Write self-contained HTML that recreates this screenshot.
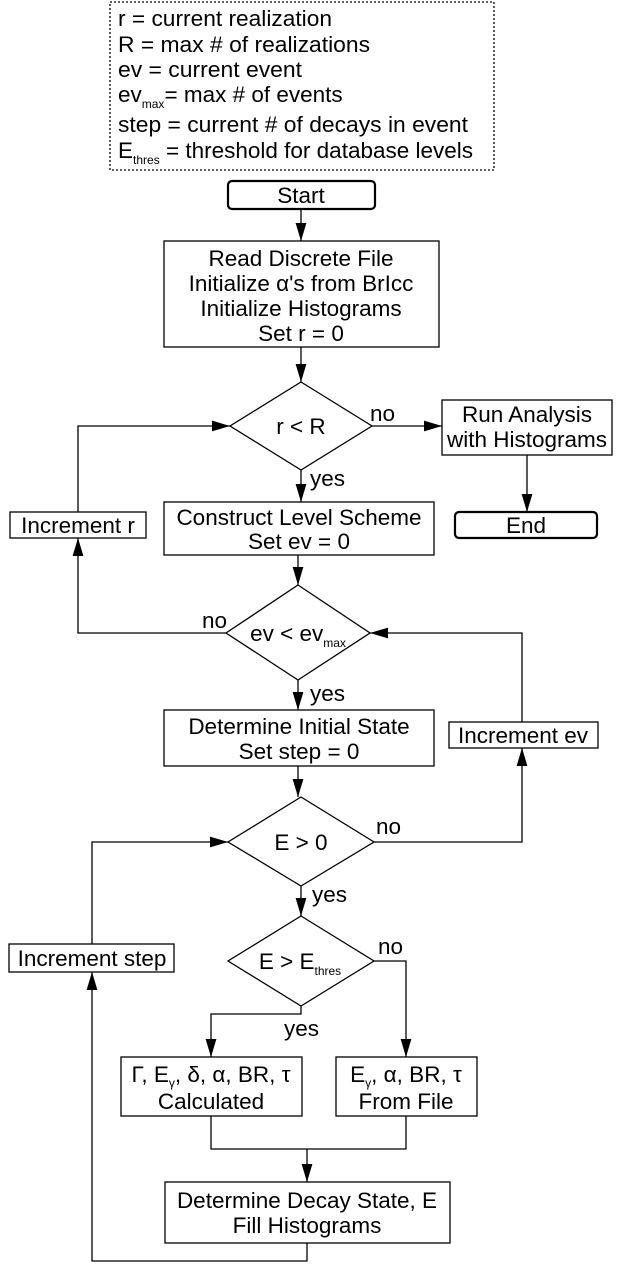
<!DOCTYPE html>
<html><head><meta charset="utf-8"><style>
html,body{margin:0;padding:0;background:#fff}
svg text{font-family:"Liberation Sans",sans-serif;font-size:22.5px;fill:#000}
</style></head><body>
<svg width="623" height="1263" viewBox="0 0 623 1263" xmlns="http://www.w3.org/2000/svg">
<defs><marker id="a" viewBox="0 0 10 10" refX="10" refY="5" markerWidth="18" markerHeight="18" markerUnits="userSpaceOnUse" orient="auto"><path d="M0,2 L10,5 L0,8 z" fill="#000"/></marker></defs>
<g fill="none" stroke="#000" stroke-width="1.3">
<rect x="110" y="2" width="384" height="168" stroke-dasharray="2,2"/>
<rect x="228" y="181" width="147" height="28" rx="4" stroke-width="2.2"/>
<rect x="164" y="241" width="275" height="106"/>
<polygon points="301,382 372,426 301,470 230,426"/>
<rect x="442" y="400" width="170" height="55"/>
<rect x="455" y="512" width="142" height="26" rx="4" stroke-width="2.2"/>
<rect x="10" y="512" width="136" height="26"/>
<rect x="164" y="502" width="270" height="53"/>
<polygon points="298,585 370,633 298,680 226,633"/>
<rect x="164" y="710" width="270" height="56"/>
<rect x="449" y="722" width="149" height="26"/>
<polygon points="301,797 374,842 301,886 228,842"/>
<polygon points="301,916 374,961 301,1006 228,961"/>
<rect x="9" y="944" width="165" height="28"/>
<rect x="121" y="1057" width="181" height="59"/>
<rect x="336" y="1057" width="141" height="59"/>
<rect x="165" y="1182" width="285" height="61"/>
<path d="M301,209 V241" marker-end="url(#a)"/>
<path d="M301,347 V382" marker-end="url(#a)"/>
<path d="M372,426 H442" marker-end="url(#a)"/>
<path d="M527,455 V512" marker-end="url(#a)"/>
<path d="M301,470 V502" marker-end="url(#a)"/>
<path d="M78,512 V426 H230" marker-end="url(#a)"/>
<path d="M298,555 V585" marker-end="url(#a)"/>
<path d="M226,633 H78 V538" marker-end="url(#a)"/>
<path d="M298,680 V710" marker-end="url(#a)"/>
<path d="M522,722 V633 H370" marker-end="url(#a)"/>
<path d="M298,766 V797" marker-end="url(#a)"/>
<path d="M374,842 H522 V748" marker-end="url(#a)"/>
<path d="M301,886 V916" marker-end="url(#a)"/>
<path d="M92,944 V842 H228" marker-end="url(#a)"/>
<path d="M374,961 H406 V1057" marker-end="url(#a)"/>
<path d="M301,1006 V1014 H211 V1057" marker-end="url(#a)"/>
<path d="M211,1116 V1149 H406 V1116"/>
<path d="M307,1149 V1182" marker-end="url(#a)"/>
<path d="M307,1243 V1261 H92 V972" marker-end="url(#a)"/>
</g>
<g>
<text x="118" y="26" textLength="214" lengthAdjust="spacingAndGlyphs">r = current realization</text>
<text x="118" y="52" textLength="252" lengthAdjust="spacingAndGlyphs">R = max # of realizations</text>
<text x="118" y="77" textLength="184" lengthAdjust="spacingAndGlyphs">ev = current event</text>
<text x="118" y="102">ev<tspan font-size="12" dy="6">max</tspan><tspan dy="-6">= max # of events</tspan></text>
<text x="118" y="132" textLength="350" lengthAdjust="spacingAndGlyphs">step = current # of decays in event</text>
<text x="118" y="158">E<tspan font-size="12" dy="6">thres</tspan><tspan dy="-6"> = threshold for database levels</tspan></text>
</g>
<g text-anchor="middle">
<text x="301" y="203">Start</text>
<text x="301" y="266">Read Discrete File</text>
<text x="301" y="291">Initialize α's from BrIcc</text>
<text x="301" y="316">Initialize Histograms</text>
<text x="301" y="341">Set r = 0</text>
<text x="301" y="434">r &lt; R</text>
<text x="527" y="422">Run Analysis</text>
<text x="527" y="447">with Histograms</text>
<text x="526" y="533">End</text>
<text x="78" y="533">Increment r</text>
<text x="299" y="525">Construct Level Scheme</text>
<text x="299" y="549">Set ev = 0</text>
<text x="298" y="641">ev &lt; ev<tspan font-size="12" dy="6">max</tspan></text>
<text x="299" y="734">Determine Initial State</text>
<text x="299" y="759">Set step = 0</text>
<text x="523" y="743">Increment ev</text>
<text x="301" y="850">E &gt; 0</text>
<text x="300" y="969">E &gt; E<tspan font-size="12" dy="6">thres</tspan></text>
<text x="92" y="966">Increment step</text>
<text x="211" y="1082">Γ, E<tspan font-size="12" dy="5">γ</tspan><tspan dy="-5">, δ, α, BR, τ</tspan></text>
<text x="211" y="1109">Calculated</text>
<text x="406" y="1082">E<tspan font-size="12" dy="5">γ</tspan><tspan dy="-5">, α, BR, τ</tspan></text>
<text x="406" y="1109">From File</text>
<text x="307" y="1208">Determine Decay State, E</text>
<text x="307" y="1233">Fill Histograms</text>
</g>
<text x="370" y="421">no</text>
<text x="310" y="486">yes</text>
<text x="202" y="628">no</text>
<text x="310" y="701">yes</text>
<text x="376" y="834">no</text>
<text x="312" y="902">yes</text>
<text x="378" y="954">no</text>
<text x="284" y="1036">yes</text>
</svg>
</body></html>
